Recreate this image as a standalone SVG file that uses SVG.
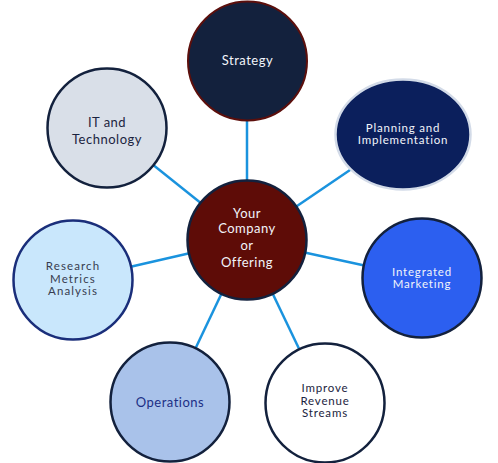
<svg xmlns="http://www.w3.org/2000/svg" width="498" height="463" viewBox="0 0 498 463">
<style>
.lnk{stroke:#1a93de;stroke-width:2.5;fill:none}
text{font-family:Lato,"Open Sans","Liberation Sans",sans-serif;font-size:13px;text-anchor:middle;letter-spacing:0.5px}
.s{font-size:11.5px;letter-spacing:0.8px}
.m{font-size:11.5px;letter-spacing:1.1px}
.w{fill:#f2f4fa}
.d{fill:#1b2440}
</style>
<rect width="498" height="463" fill="#ffffff"/>
<g id="connectors">
<line class="lnk" x1="247" y1="240" x2="247" y2="61"/>
<line class="lnk" x1="247" y1="240" x2="107" y2="128"/>
<line class="lnk" x1="247" y1="240" x2="403" y2="134"/>
<line class="lnk" x1="247" y1="240" x2="73" y2="280"/>
<line class="lnk" x1="247" y1="240" x2="422" y2="278"/>
<line class="lnk" x1="247" y1="240" x2="170" y2="402"/>
<line class="lnk" x1="247" y1="240" x2="325" y2="403"/>
</g>
<g id="strategy">
<circle cx="247.5" cy="61" r="59.5" fill="#13213d" stroke="#5c0f0c" stroke-width="2"/>
<text class="w" x="247.5" y="65">Strategy</text>
</g>
<g id="it">
<circle cx="107" cy="128" r="59.5" fill="#d9dfe8" stroke="#13213d" stroke-width="2.5"/>
<text class="d" x="107" y="127">IT and</text>
<text class="d" x="107" y="144">Technology</text>
</g>
<g id="planning">
<ellipse cx="403" cy="134.5" rx="67.5" ry="55" fill="#0b1f5c" stroke="#d3dbe8" stroke-width="2.5"/>
<text class="w s" x="403" y="132">Planning and</text>
<text class="w s" x="403" y="144">Implementation</text>
</g>
<g id="center">
<circle cx="247" cy="240" r="59.5" fill="#5e0c07" stroke="#13213d" stroke-width="2.5"/>
<text class="w" x="247" y="218">Your</text>
<text class="w" x="247" y="233">Company</text>
<text class="w" x="247" y="250">or</text>
<text class="w" x="247" y="267">Offering</text>
</g>
<g id="research">
<circle cx="73" cy="280" r="59.5" fill="#c9e7fc" stroke="#1a2e7a" stroke-width="2.5"/>
<text class="m" x="73" y="270" fill="#373d4f">Research</text>
<text class="m" x="73" y="282.5" fill="#373d4f">Metrics</text>
<text class="m" x="73" y="295" fill="#373d4f">Analysis</text>
</g>
<g id="integrated">
<circle cx="422" cy="278" r="59.5" fill="#2c5ff0" stroke="#13213d" stroke-width="2.5"/>
<text class="w s" x="422" y="276">Integrated</text>
<text class="w s" x="422" y="288">Marketing</text>
</g>
<g id="operations">
<circle cx="170" cy="402" r="59.5" fill="#a9c2ea" stroke="#13213d" stroke-width="2.5"/>
<text x="170" y="407" fill="#1c2f86">Operations</text>
</g>
<g id="improve">
<circle cx="325" cy="403" r="59.5" fill="#ffffff" stroke="#13213d" stroke-width="2.5"/>
<text class="d s" x="325" y="392">Improve</text>
<text class="d s" x="325" y="404.5">Revenue</text>
<text class="d s" x="325" y="417">Streams</text>
</g>
</svg>
